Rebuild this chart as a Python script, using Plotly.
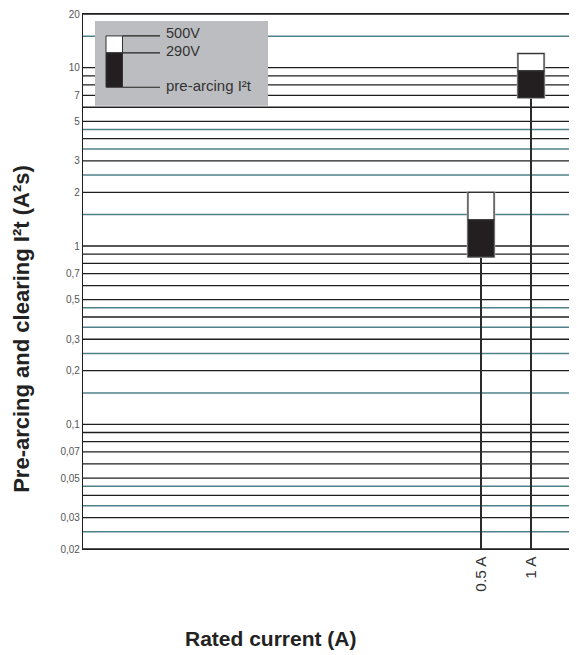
import plotly.graph_objects as go
import math

# ---- data ----
currents = ["0.5 A", "1 A"]
pre_arcing = [0.87, 6.8]
clearing_290v = [1.4, 9.6]
clearing_500v = [2.0, 12.0]

major_grid = [0.02, 0.03, 0.04, 0.05, 0.06, 0.07, 0.08, 0.09, 0.1,
              0.2, 0.3, 0.4, 0.5, 0.6, 0.7, 0.8, 0.9, 1,
              2, 3, 4, 5, 6, 7, 8, 9, 10, 20]
teal_grid = [0.025, 0.035, 0.045, 0.15, 0.25, 0.35, 0.45, 1.5, 2.5, 3.5, 4.5, 15]
y_tick_vals = [20, 10, 7, 5, 3, 2, 1, 0.7, 0.5, 0.3, 0.2, 0.1, 0.07, 0.05, 0.03, 0.02]
y_tick_text = ["20", "10", "7", "5", "3", "2", "1", "0,7", "0,5", "0,3", "0,2",
               "0,1", "0,07", "0,05", "0,03", "0,02"]
legend_labels = ["500V", "290V", "pre-arcing I²t"]

FONT = "Liberation Sans, Arial, sans-serif"
DARK = "#231f20"
TEAL = "#4f8189"
y_min, y_max = 0.02, 20

# page offset of the figure div (default body margin)
OFF = 8
W, H = 577 - OFF, 655 - OFF

fig = go.Figure()
xs = list(range(len(currents)))

# vertical stems
for i, c in enumerate(currents):
    fig.add_trace(go.Scatter(x=[i, i], y=[y_min, pre_arcing[i]], mode="lines",
                             line=dict(color="#2b2b2b", width=2), showlegend=False,
                             hoverinfo="skip"))

shapes = []
for v in major_grid:
    shapes.append(dict(type="line", xref="paper", yref="y", x0=0, x1=1, y0=v, y1=v,
                       line=dict(color="#1e1e1e", width=1.3), layer="below"))
for v in teal_grid:
    shapes.append(dict(type="line", xref="paper", yref="y", x0=0, x1=1, y0=v, y1=v,
                       line=dict(color=TEAL, width=1.5), layer="below"))

hw = 0.26
for i in xs:
    shapes.append(dict(type="rect", xref="x", yref="y", x0=i - hw, x1=i + hw,
                       y0=pre_arcing[i], y1=clearing_500v[i],
                       line=dict(color="#c4c4c4", width=2.6), fillcolor="rgba(0,0,0,0)", layer="above"))
    shapes.append(dict(type="rect", xref="x", yref="y", x0=i - hw, x1=i + hw,
                       y0=clearing_290v[i], y1=clearing_500v[i],
                       line=dict(color="#333333", width=1.2), fillcolor="white", layer="above"))
    shapes.append(dict(type="rect", xref="x", yref="y", x0=i - hw, x1=i + hw,
                       y0=pre_arcing[i], y1=clearing_290v[i],
                       line=dict(color="#333333", width=1.2), fillcolor=DARK, layer="above"))

# page-pixel -> paper helpers
L, R, T, B = 83, 577, 12, 549
def px(x):
    return (x - L) / (R - L)
def py(y):
    return (B - y) / (B - T)

shapes.append(dict(type="rect", xref="paper", yref="paper", x0=px(95), x1=px(268),
                   y0=py(104), y1=py(19), line=dict(width=0), fillcolor="#bcbdc0", layer="above"))
shapes.append(dict(type="rect", xref="paper", yref="paper", x0=px(106), x1=px(122.5),
                   y0=py(51), y1=py(34), line=dict(color="#333333", width=1), fillcolor="white", layer="above"))
shapes.append(dict(type="rect", xref="paper", yref="paper", x0=px(106), x1=px(122.5),
                   y0=py(85.5), y1=py(51), line=dict(color="#333333", width=1), fillcolor=DARK, layer="above"))
leg_line_y = [34, 51, 85.5]
leg_text_y = [31.5, 49, 83.5]
leg_text_size = [14.5, 14.5, 15]
for ly in leg_line_y:
    shapes.append(dict(type="line", xref="paper", yref="paper", x0=px(122.5), x1=px(160),
                       y0=py(ly), y1=py(ly), line=dict(color="#222222", width=1.2), layer="above"))

annotations = []
for lab, ty, fs in zip(legend_labels, leg_text_y, leg_text_size):
    annotations.append(dict(x=px(164), y=py(ty), xref="paper", yref="paper", text=lab,
                            showarrow=False, xanchor="left", yanchor="middle",
                            font=dict(family=FONT, size=fs, color="#333333")))

annotations.append(dict(x=px(22), y=py(328), xref="paper", yref="paper",
                        text="<b>Pre-arcing and clearing I²t (A²s)</b>", textangle=-90,
                        showarrow=False, xanchor="center", yanchor="middle",
                        font=dict(family=FONT, size=22, color="#222222")))
annotations.append(dict(x=px(271), y=py(639), xref="paper", yref="paper",
                        text="<b>Rated current (A)</b>",
                        showarrow=False, xanchor="center", yanchor="middle",
                        font=dict(family=FONT, size=21, color="#222222")))

fig.update_layout(
    width=W, height=H,
    margin=dict(l=L - OFF, r=W - (R - OFF), t=T - OFF, b=H - (B - OFF), pad=0),
    paper_bgcolor="white", plot_bgcolor="white",
    shapes=shapes, annotations=annotations, showlegend=False,
    xaxis=dict(range=[-7.96, 1.92], tickvals=xs, ticktext=currents, tickangle=-90,
               showgrid=False, zeroline=False, showline=True, mirror=True,
               linecolor="#1e1e1e", linewidth=1.3,
               ticks="", tickfont=dict(family=FONT, size=15.5, color="#333333"), fixedrange=True),
    yaxis=dict(type="log", range=[math.log10(y_min), math.log10(y_max)],
               tickvals=y_tick_vals, ticktext=y_tick_text, showgrid=False, zeroline=False,
               showline=True, linecolor="#1e1e1e", linewidth=1.3, ticks="",
               ticklabeloverflow="allow",
               tickfont=dict(family=FONT, size=10, color="#555555"), fixedrange=True),
)

fig.write_html("out.html")
